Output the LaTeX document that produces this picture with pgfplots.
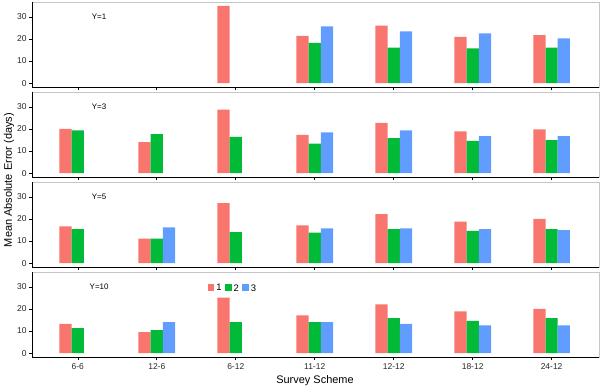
\documentclass[border=0pt]{standalone}
\usepackage{fontspec}
\setmainfont{Liberation Sans}
\usepackage{pgfplots}
\pgfplotsset{compat=1.18}
\definecolor{c1}{HTML}{F8766D}
\definecolor{c2}{HTML}{00BA38}
\definecolor{c3}{HTML}{619CFF}
\pgfplotsset{panel/.style={
  scale only axis, width=567bp, height=85bp, anchor=north west,
  xmin=0.42, xmax=7.6, ymin=-1.75, ymax=36.75,
  ybar, bar width=0.155,
  xtick={1,...,7}, xticklabels={}, ytick={0,10,20,30},
  tick align=outside, xtick pos=left, ytick pos=left,
  major tick length=3bp,
  tick style={black, line width=0.6pt},
  axis line style={draw=gray!45, line width=0.6pt},
  ticklabel style={font=\fontsize{8.5}{9}\selectfont, text=black!85},
  /pgf/number format/assume math mode=true,
  yticklabel style={xshift=1bp},
  after end axis/.code={\draw[black, line width=0.9pt] (rel axis cs:0,1) -- (rel axis cs:0,0) -- (rel axis cs:1,0);},
  legend image code/.code={\fill[##1,draw=none] (0bp,-2.5bp) rectangle (6.5bp,4.5bp);},
}}
\newcommand{\plab}[1]{\node[font=\fontsize{8}{9}\selectfont] at (axis cs:1.27,30) {#1};}
\begin{document}
\begin{tikzpicture}
\path[use as bounding box] (0,0) rectangle (600bp,-388bp);
% Y=1
\begin{axis}[panel, at={(32bp,-2bp)}]
\addplot[fill=c1, draw=none, bar shift=-0.155] coordinates {(3,35.0) (4,21.4) (5,26.0) (6,20.9) (7,21.8)};
\addplot[fill=c2, draw=none, bar shift=0] coordinates {(4,18.2) (5,16.1) (6,15.7) (7,16.1)};
\addplot[fill=c3, draw=none, bar shift=0.155] coordinates {(4,25.7) (5,23.4) (6,22.5) (7,20.3)};
\plab{Y=1}
\end{axis}
% Y=3
\begin{axis}[panel, at={(32bp,-92bp)}]
\addplot[fill=c1, draw=none, bar shift=-0.155] coordinates {(1,20.1) (2,14.1) (3,28.8) (4,17.3) (5,22.8) (6,18.9) (7,19.8)};
\addplot[fill=c2, draw=none, bar shift=0] coordinates {(1,19.4) (2,17.7) (3,16.4) (4,13.4) (5,15.9) (6,14.6) (7,15.0)};
\addplot[fill=c3, draw=none, bar shift=0.155] coordinates {(4,18.5) (5,19.4) (6,16.8) (7,16.8)};
\plab{Y=3}
\end{axis}
% Y=5
\begin{axis}[panel, at={(32bp,-182bp)}]
\addplot[fill=c1, draw=none, bar shift=-0.155] coordinates {(1,16.7) (2,11.1) (3,27.2) (4,17.1) (5,22.2) (6,18.8) (7,20.1)};
\addplot[fill=c2, draw=none, bar shift=0] coordinates {(1,15.4) (2,11.1) (3,14.0) (4,13.8) (5,15.4) (6,14.6) (7,15.4)};
\addplot[fill=c3, draw=none, bar shift=0.155] coordinates {(2,16.2) (4,15.8) (5,15.8) (6,15.4) (7,14.9)};
\plab{Y=5}
\end{axis}
% Y=10
\begin{axis}[panel, at={(32bp,-272bp)},
  xticklabels={6-6,12-6,6-12,11-12,12-12,18-12,24-12},
  legend style={at={(0.31,0.88)}, anchor=north west, draw=none, fill=none,
    font=\fontsize{9.5}{10}\selectfont, inner sep=0pt,
    /tikz/every even column/.append style={column sep=1.5bp}},
  legend columns=3]
\addplot[fill=c1, draw=none, bar shift=-0.155] coordinates {(1,13.3) (2,9.5) (3,25.2) (4,17.1) (5,22.1) (6,18.9) (7,20.1)};
\addplot[fill=c2, draw=none, bar shift=0] coordinates {(1,11.3) (2,10.4) (3,14.1) (4,14.1) (5,15.9) (6,14.6) (7,15.9)};
\addplot[fill=c3, draw=none, bar shift=0.155] coordinates {(2,14.1) (4,14.1) (5,13.3) (6,12.6) (7,12.6)};
\legend{1,2,3}
\plab{Y=10}
\end{axis}
\node[rotate=90, font=\fontsize{11}{12}\selectfont] at (9bp,-180bp) {Mean Absolute Error (days)};
\node[font=\fontsize{11}{12}\selectfont] at (315bp,-381bp) {Survey Scheme};
\end{tikzpicture}
\end{document}
